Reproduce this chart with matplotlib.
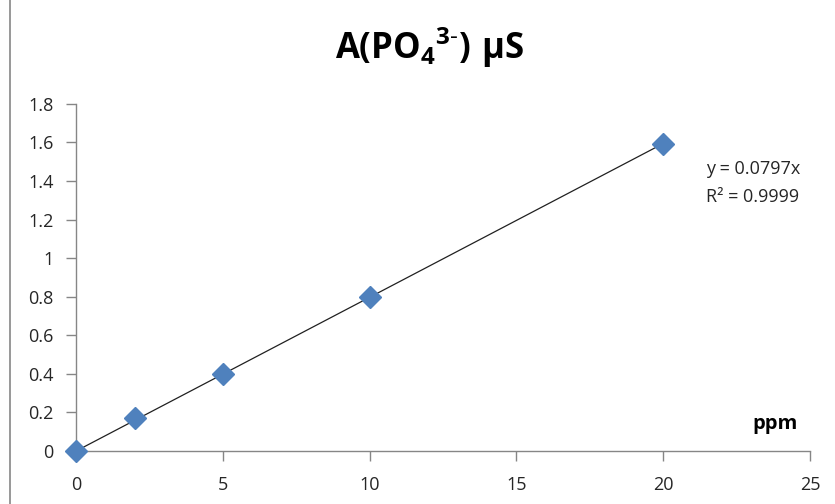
import numpy as np
import matplotlib.pyplot as plt
from matplotlib.lines import Line2D

# data
ppm = [0, 2, 5, 10, 20]
signal = [0.0, 0.17, 0.40, 0.80, 1.59]
slope = 0.0797
r2 = 0.9999
x_ticks = [0, 5, 10, 15, 20, 25]
y_ticks = [0, 0.2, 0.4, 0.6, 0.8, 1, 1.2, 1.4, 1.6, 1.8]

plt.rcParams['font.family'] = ['Open Sans', 'DejaVu Sans']
plt.rcParams['mathtext.fontset'] = 'custom'
plt.rcParams['mathtext.rm'] = 'Open Sans'
plt.rcParams['mathtext.bf'] = 'Open Sans:bold'

fig = plt.figure(figsize=(8.35, 5.04), dpi=100)
ax = fig.add_axes([0.091, 0.105, 0.879, 0.689])

# trendline through origin
xl = np.array([0, 20])
ax.plot(xl, slope * xl, color='#202020', lw=0.9, zorder=2)
ax.plot(ppm, signal, ls='none', marker='D', ms=11, color='#4F81BD', zorder=3,
        clip_on=False)

ax.set_xlim(0, 25)
ax.set_ylim(0, 1.8)
ax.set_xticks(x_ticks)
ax.set_yticks(y_ticks)
ax.set_yticklabels([f'{v:g}' for v in y_ticks])
for s in ['top', 'right']:
    ax.spines[s].set_visible(False)
for s in ['left', 'bottom']:
    ax.spines[s].set_color('#868686')
    ax.spines[s].set_linewidth(1)
ax.tick_params(colors='#868686', labelcolor='#262626', labelsize=13,
               length=7, width=1, direction='out')
ax.tick_params(axis='y', pad=9)
ax.tick_params(axis='x', pad=11)
ax.patch.set_alpha(0)

fig.text(0.515, 0.905, r'$\mathbf{A(PO_4{}^{3\text{-}})\ \mu S}$', fontsize=25,
         ha='center', va='center', color='black')
fig.text(0.846, 0.665, f'y = {slope}x', fontsize=13, color='#262626', ha='left', va='center')
fig.text(0.846, 0.609, f'R² = {r2}', fontsize=13, color='#262626', ha='left', va='center')
fig.text(0.928, 0.158, 'ppm', fontsize=14.5, fontweight='bold', ha='center', va='center')

fig.add_artist(Line2D([0.012, 0.012], [0, 1], transform=fig.transFigure,
                      color='#868686', lw=1.2))

fig.savefig('out.png', dpi=100)
